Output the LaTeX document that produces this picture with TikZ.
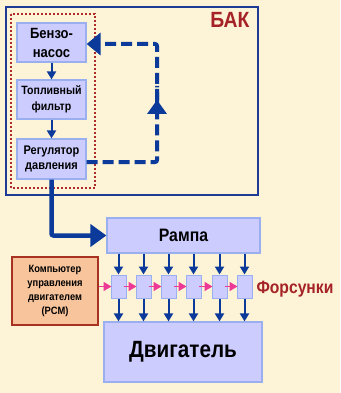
\documentclass[tikz,border=0pt]{standalone}
\usepackage{fontspec}
\setmainfont[FakeStretch=0.88]{Liberation Sans}
\usetikzlibrary{arrows.meta}
\definecolor{bg}{HTML}{FDF3D6}
\definecolor{frameblue}{HTML}{1E3C96}
\definecolor{arrowblue}{HTML}{0B3A9A}
\definecolor{boxfill}{HTML}{CCCCFF}
\definecolor{boxedge}{HTML}{99AFF0}
\definecolor{darkred}{HTML}{A52226}
\definecolor{dotred}{HTML}{B02A2A}
\definecolor{pcmfill}{HTML}{F8C49C}
\definecolor{pcmedge}{HTML}{A83222}
\definecolor{pinkarrow}{HTML}{EE3A97}
\tikzset{
  blk/.style={draw=boxedge, fill=boxfill, line width=1.2pt, inner sep=0pt, align=center, font=\bfseries},
  inj/.style={draw=boxedge, fill=boxfill, line width=1pt, inner sep=0pt, minimum width=15pt, minimum height=23pt},
  smallarrow/.style={draw=arrowblue, line width=2pt, -{Triangle[length=8pt,width=9pt]}},
  pinkar/.style={draw=pinkarrow, line width=1.6pt, -{Triangle[length=8pt,width=9pt]}},
  retline/.style={draw=arrowblue, line width=4pt, dash pattern=on 11pt off 5pt, rounded corners=2pt},
  feedline/.style={draw=arrowblue, line width=4.5pt, rounded corners=2pt}
}
\begin{document}
\begin{tikzpicture}[x=1pt,y=-1pt]
\fill[bg] (0,0) rectangle (340,393);
\useasboundingbox (0,0) rectangle (340,393);
% tank frame
\draw[frameblue, line width=1.5pt] (6,7) rectangle (258,195);
\draw[dotred, line width=1.2pt, dash pattern=on 2pt off 2pt] (11,14) rectangle (95,188);
\node[text=darkred, font=\bfseries\fontsize{22}{24}\selectfont, anchor=north east] (bak) at (253,9) {БАК};
% boxes in tank
\node[blk, minimum width=69pt, minimum height=39pt, font=\bfseries\fontsize{14.8}{19}\selectfont] (pump) at (51.5,42.5) {Бензо-\\насос};
\node[blk, minimum width=69pt, minimum height=39pt, font=\bfseries\fontsize{12}{16}\selectfont] (filter) at (51.5,99.5) {Топливный\\фильтр};
\node[blk, minimum width=69pt, minimum height=40pt, font=\bfseries\fontsize{12.5}{15}\selectfont] (reg) at (51.5,159) {Регулятор\\давления};
\draw[smallarrow] (pump) -- (filter);
\draw[smallarrow] (filter) -- (reg);
% return line
\coordinate (c1) at (157,162);
\coordinate (m) at (157,100);
\coordinate (c2) at (157,44);
\draw[retline] ([yshift=-3pt]reg.east) -- (c1) -- ([yshift=14pt]m);
\fill[arrowblue] (m) -- ++(-10,14) -- ++(20,0) -- cycle;
\draw[retline, -{Triangle[length=14pt,width=22pt]}] (m) -- (c2) -- ([yshift=-1.5pt]pump.east);
% ramp and engine
\node[blk, minimum width=153pt, minimum height=35pt, font=\bfseries\fontsize{18}{20}\selectfont] (ramp) at (183.5,235.5) {Рампа};
\node[blk, minimum width=158pt, minimum height=60pt, font=\bfseries\fontsize{23.5}{26}\selectfont] (engine) at (183,352) {Двигатель};
\draw[feedline, -{Triangle[length=16pt,width=22pt]}] (reg.south) -- (reg.south |- ramp.west) -- (ramp.west);
% PCM
\node[draw=pcmedge, fill=pcmfill, line width=1.2pt, minimum width=86pt, minimum height=68pt, inner sep=0pt, align=center, font=\bfseries\fontsize{10.6}{14}\selectfont] (pcm) at (55,291) {Компьютер\\управления\\двигателем\\(PCM)};
% injectors
\foreach \i/\x in {1/118.5,2/143.5,3/168.5,4/193.5,5/219.5,6/244.5}{
  \node[inj] (i\i) at (\x,286.5) {};
  \draw[smallarrow] (i\i |- ramp.south) -- (i\i.north);
  \draw[smallarrow] (i\i.south) -- (i\i |- engine.north);
}
\draw[pinkar] (pcm.east |- i1) -- ([xshift=1pt]i1.west);
\foreach \a/\b in {1/2,2/3,3/4,4/5,5/6}{
  \draw[pinkar] ([xshift=-3pt]i\a.east) -- ([xshift=1pt]i\b.west);
}
\node[text=darkred, font=\bfseries\fontsize{17.8}{20}\selectfont, anchor=west] (fors) at (253,289) {Форсунки};
\end{tikzpicture}
\end{document}
